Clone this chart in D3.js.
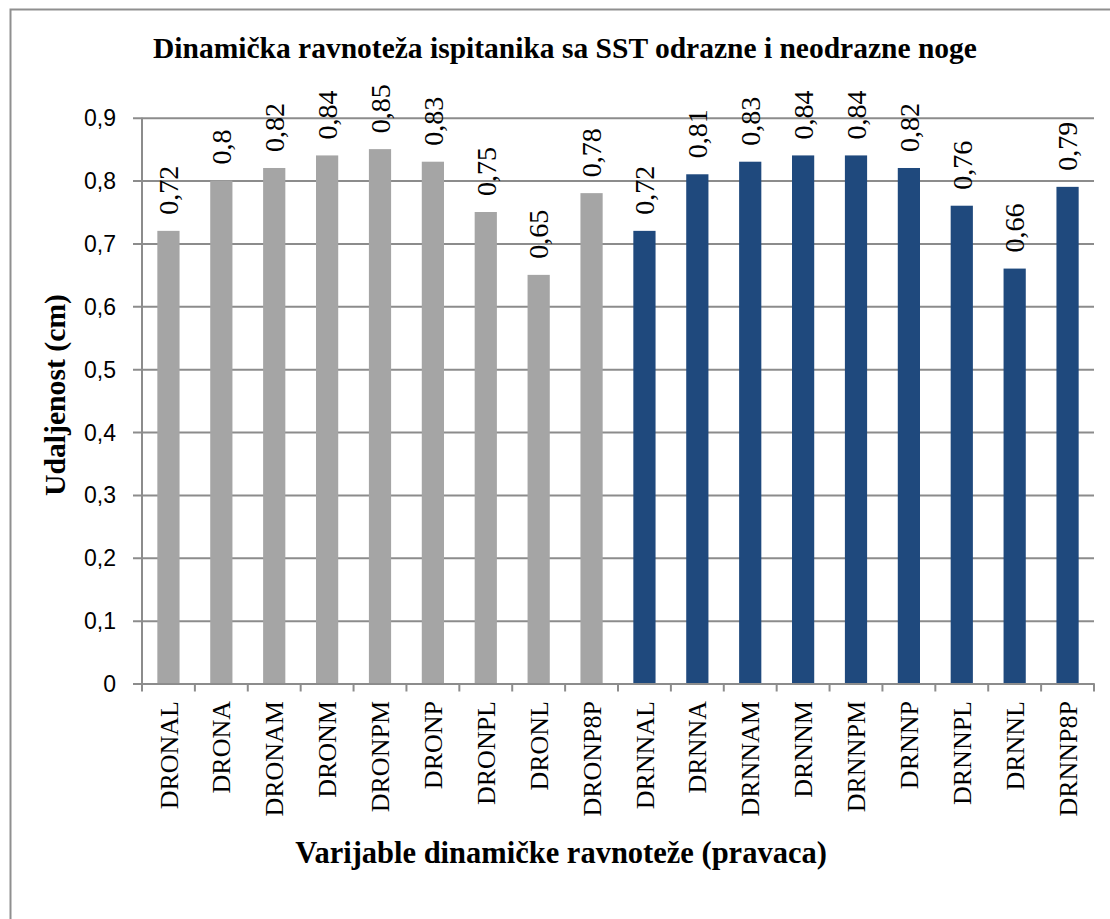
<!DOCTYPE html>
<html>
<head>
<meta charset="utf-8">
<script src="https://cdn.jsdelivr.net/npm/d3@7"></script>
<style>
  html, body { margin: 0; padding: 0; background: #fff; }
  svg { display: block; }
</style>
</head>
<body>
<svg id="chart" width="1110" height="919"></svg>
<script>
const categories = ["DRONAL","DRONA","DRONAM","DRONM","DRONPM","DRONP","DRONPL","DRONL","DRONP8P",
                    "DRNNAL","DRNNA","DRNNAM","DRNNM","DRNNPM","DRNNP","DRNNPL","DRNNL","DRNNP8P"];
const values = [0.72,0.80,0.82,0.84,0.85,0.83,0.75,0.65,0.78,
                0.72,0.81,0.83,0.84,0.84,0.82,0.76,0.66,0.79];
const groups = ["odrazna","odrazna","odrazna","odrazna","odrazna","odrazna","odrazna","odrazna","odrazna",
                "neodrazna","neodrazna","neodrazna","neodrazna","neodrazna","neodrazna","neodrazna","neodrazna","neodrazna"];
const yTicks = [0,0.1,0.2,0.3,0.4,0.5,0.6,0.7,0.8,0.9];
const title = "Dinamička ravnoteža ispitanika sa SST odrazne i neodrazne noge";
const xTitle = "Varijable dinamičke ravnoteže (pravaca)";
const yTitle = "Udaljenost (cm)";

(function () {
const fmt = v => String(+v.toFixed(2)).replace(".", ",");
const data = categories.map((c, i) => ({cat: c, value: values[i], group: groups[i]}));

const svg = d3.select("#chart");
const serif = "'Liberation Serif','Times New Roman',serif";
const sans = "'Liberation Sans',Arial,sans-serif";
const gridColor = "#8c8c8c";

// outer frame
svg.append("rect").attr("x", 10.5).attr("y", 9.5).attr("width", 1120).attr("height", 930)
  .attr("fill", "none").attr("stroke", "#8f8f8f").attr("stroke-width", 2);

const pLeft = 142, pRight = 1094, pTop = 117.7, pBottom = 683.5;

const x = d3.scaleBand().domain(categories).range([pLeft, pRight]).paddingInner(0.58).paddingOuter(0.29);
const xTick = d3.scaleBand().domain(categories).range([pLeft, pRight]).padding(0);
const y = d3.scaleLinear().domain([0, 0.9]).range([pBottom, pTop]);
const color = d3.scaleOrdinal().domain(["odrazna","neodrazna"]).range(["#A5A5A5","#1F497D"]);

// gridlines + y axis
const yAxis = d3.axisLeft(y).tickValues(yTicks).tickFormat(fmt).tickSize(0).tickPadding(0);
const gy = svg.append("g").attr("transform", `translate(${pLeft},0)`).call(yAxis);
gy.select(".domain").remove();
gy.selectAll(".tick line").attr("x1", -9).attr("x2", pRight - pLeft).attr("stroke", gridColor).attr("stroke-width", 2);
gy.selectAll(".tick text").attr("x", -26).attr("dy", "0.35em")
  .attr("font-family", sans).attr("font-size", 23).attr("fill", "#000");

// y axis line
svg.append("line").attr("x1", pLeft).attr("x2", pLeft).attr("y1", y(0.9)).attr("y2", y(0))
  .attr("stroke", gridColor).attr("stroke-width", 2);

// bars
svg.append("g").selectAll("rect").data(data).join("rect")
  .attr("x", d => x(d.cat))
  .attr("width", x.bandwidth())
  .attr("y", d => y(d.value))
  .attr("height", d => y(0) - y(d.value))
  .attr("fill", d => color(d.group));

// x axis
const xAxis = d3.axisBottom(xTick).tickSize(0).tickFormat("");
const gx = svg.append("g").attr("transform", `translate(0,${pBottom})`).call(xAxis);
gx.select(".domain").attr("stroke", gridColor).attr("stroke-width", 2);
gx.selectAll(".tick").remove();
const bounds = categories.map(c => xTick(c)).concat([pRight]);
gx.selectAll("line.bt").data(bounds).join("line").attr("class", "bt")
  .attr("x1", d => d).attr("x2", d => d).attr("y1", 0).attr("y2", 8)
  .attr("stroke", gridColor).attr("stroke-width", 2);

// category labels
svg.append("g").selectAll("text").data(data).join("text")
  .attr("transform", d => `translate(${xTick(d.cat) + xTick.bandwidth() / 2},701) rotate(-90)`)
  .attr("text-anchor", "end").attr("dy", "0.35em")
  .attr("font-family", serif).attr("font-size", 26).attr("fill", "#000")
  .text(d => d.cat);

// value labels
svg.append("g").selectAll("text").data(data).join("text")
  .attr("transform", d => `translate(${x(d.cat) + x.bandwidth() / 2},${y(d.value) - 16}) rotate(-90)`)
  .attr("text-anchor", "start").attr("dy", "0.35em")
  .attr("font-family", serif).attr("font-size", 28).attr("fill", "#000")
  .text(d => fmt(d.value));

// titles
svg.append("text").attr("x", 565).attr("y", 58).attr("text-anchor", "middle")
  .attr("font-family", serif).attr("font-size", 29.5).attr("font-weight", "bold").text(title);
svg.append("text").attr("x", 561).attr("y", 863).attr("text-anchor", "middle")
  .attr("font-family", serif).attr("font-size", 30.5).attr("font-weight", "bold").text(xTitle);
svg.append("text").attr("transform", "translate(55,395) rotate(-90)").attr("text-anchor", "middle")
  .attr("dy", "0.35em")
  .attr("font-family", serif).attr("font-size", 29.7).attr("font-weight", "bold").text(yTitle);
})();
</script>
</body>
</html>
